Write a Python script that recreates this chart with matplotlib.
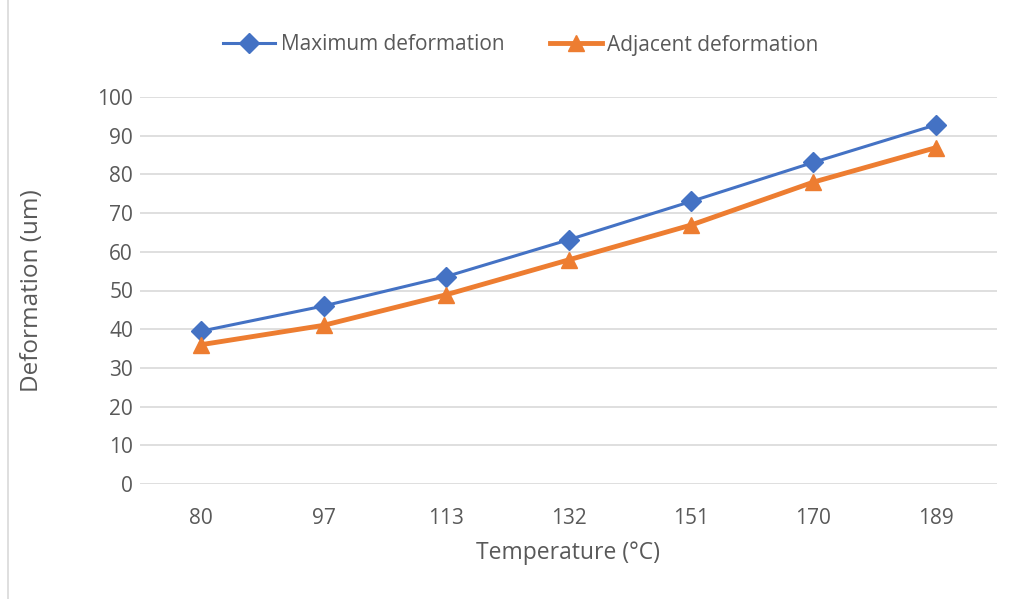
import numpy as np
import matplotlib.pyplot as plt
from matplotlib.lines import Line2D

temps = ['80', '97', '113', '132', '151', '170', '189']
max_def = [39.5, 46, 53.6, 63.1, 73, 83.1, 92.8]
adj_def = [36, 41, 48.9, 57.9, 66.9, 78, 86.9]

plt.rcParams['font.family'] = ['Open Sans', 'DejaVu Sans']
grey = '#595959'

fig = plt.figure(figsize=(10.14, 5.99), dpi=100)
ax = fig.add_axes([140/1014, 115/599, 857/1014, 387/599])

x = np.arange(len(temps))
ax.plot(x, max_def, color='#4472C4', lw=2.2, marker='D', ms=10,
        label='Maximum deformation', zorder=3)
ax.plot(x, adj_def, color='#ED7D31', lw=3.5, marker='^', ms=11.5,
        label='Adjacent deformation', zorder=3)

ax.set_xlim(-0.5, len(temps) - 0.5)
ax.set_ylim(0, 100)
ax.set_yticks(range(0, 101, 10))
ax.set_xticks(x)
ax.set_xticklabels(temps)
ax.grid(axis='y', color='#d9d9d9', lw=1.2)
ax.set_axisbelow(True)
for s in ax.spines.values():
    s.set_visible(False)
ax.tick_params(length=0, labelsize=15, labelcolor=grey)
ax.tick_params(axis='x', pad=17)
ax.tick_params(axis='y', pad=5)
ax.set_xlabel('Temperature (°C)', fontsize=16.5, color=grey)
ax.set_ylabel('Deformation (um)', fontsize=17.5, color=grey)
ax.xaxis.set_label_coords(0.5, (484 - 541) / 387)
ax.yaxis.set_label_coords((44 - 140) / 857, 0.5)

leg = fig.legend(*ax.get_legend_handles_labels(), loc='center',
                 bbox_to_anchor=(521/1014, 1 - 45/599), ncol=2,
                 frameon=False, fontsize=15, handlelength=2.5, columnspacing=2.2,
                 handletextpad=0.25)
for t in leg.get_texts():
    t.set_color(grey)

# chart border on the left
fig.add_artist(Line2D([8/1014, 8/1014], [0, 1], color='#d9d9d9', lw=1.2))

fig.savefig('out.png', dpi=100)
